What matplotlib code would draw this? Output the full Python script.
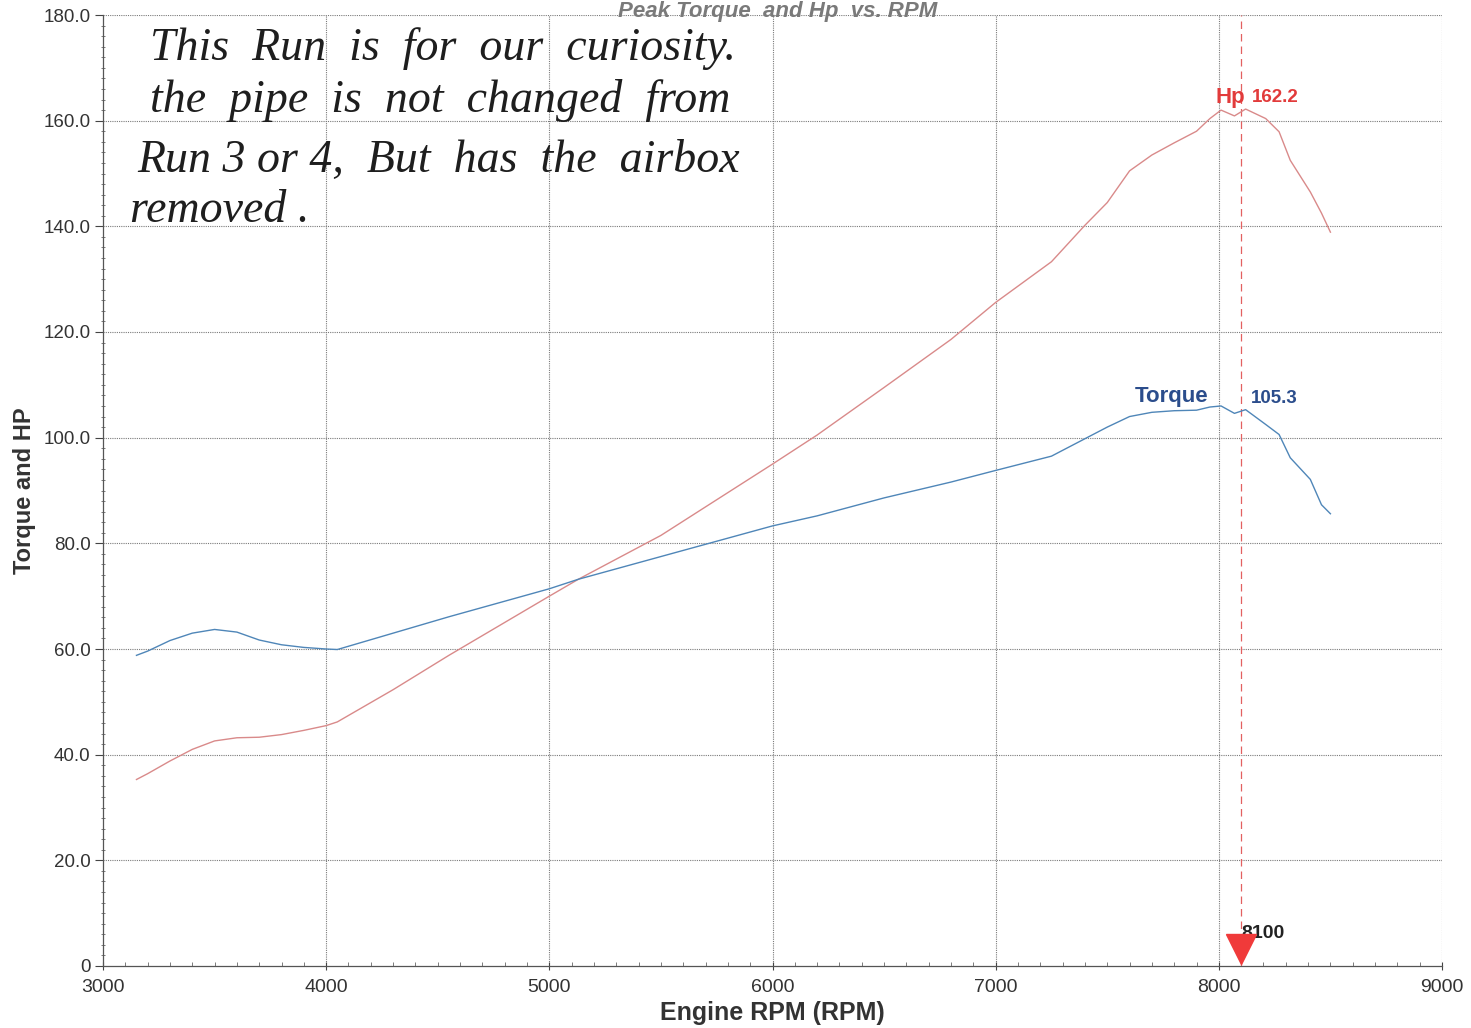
import matplotlib
matplotlib.use("Agg")
import matplotlib.pyplot as plt
from matplotlib.ticker import MultipleLocator, FixedLocator

plt.rcParams['font.family'] = ['Liberation Sans', 'DejaVu Sans']

rpm = [3150, 3200, 3300, 3400, 3500, 3600, 3700, 3800, 3900, 4000, 4050, 4300,
       4550, 5000, 5130, 5500, 6000, 6200, 6500, 6800, 7000, 7250, 7400, 7500,
       7600, 7700, 7800, 7900, 7960, 8010, 8070, 8120, 8210, 8270, 8320, 8410,
       8460, 8500]
torque = [58.8, 59.6, 61.6, 63.0, 63.7, 63.2, 61.7, 60.8, 60.3, 60.0, 59.9, 63.0,
          66.1, 71.4, 73.2, 77.5, 83.3, 85.2, 88.6, 91.6, 93.8, 96.5, 99.8, 102.0,
          104.0, 104.8, 105.1, 105.2, 105.8, 106.0, 104.6, 105.3, 102.5, 100.6, 96.2, 92.1,
          87.3, 85.6]
hp = [35.3, 36.4, 38.8, 41.0, 42.6, 43.2, 43.3, 43.8, 44.6, 45.5, 46.2, 52.3,
      58.8, 70.0, 73.2, 81.5, 95.0, 100.5, 109.5, 118.6, 125.6, 133.3, 140.2, 144.5,
      150.5, 153.5, 155.8, 158.0, 160.4, 162.0, 160.9, 162.2, 160.4, 157.9, 152.5, 146.5,
      142.5, 138.9]

marker_rpm = 8100
peak_hp = 162.2
peak_torque = 105.3

x_ticks = [3000, 4000, 5000, 6000, 7000, 8000, 9000]
y_ticks = [0, 20, 40, 60, 80, 100, 120, 140, 160, 180]
y_tick_labels = ["0", "20.0", "40.0", "60.0", "80.0", "100.0", "120.0", "140.0", "160.0", "180.0"]

title = "Peak Torque  and Hp  vs. RPM"
note_lines = ["This  Run  is  for  our  curiosity.",
              "the  pipe  is  not  changed  from",
              "Run 3 or 4,  But  has  the  airbox",
              "removed ."]

fig = plt.figure(figsize=(14.71, 10.28), dpi=100)
ax = fig.add_axes([103/1471, 1-966/1028, (1442-103)/1471, (966-15)/1028])

grid_c = '#7a7a7a'
for xv in x_ticks[1:]:
    ax.axvline(xv, color=grid_c, lw=0.8, ls=(0, (1, 1)), zorder=1)
for yv in y_ticks[1:]:
    ax.axhline(yv, color=grid_c, lw=0.8, ls=(0, (1, 1)), zorder=1)

ax.plot(rpm, hp, color='#d98a8a', lw=1.0, zorder=3)
ax.plot(rpm, torque, color='#4f86b8', lw=1.0, zorder=3)

ax.axvline(marker_rpm, color='#e36060', lw=0.9, ls=(0, (6, 4)), zorder=2)
ax.plot([marker_rpm], [3.2], marker='v', markersize=22, color='#f03a3a', zorder=5, clip_on=False)
ax.text(marker_rpm, 5.3, str(marker_rpm), fontsize=14, fontweight='bold', color='#222222',
        ha='left', va='baseline')

ax.text(8118, 163.4, "Hp", fontsize=16, fontweight='bold', color='#e23b3b', ha='right', va='baseline')
ax.text(8150, 163.6, f"{peak_hp:.1f}", fontsize=13.5, fontweight='bold', color='#e23b3b', ha='left', va='baseline')
ax.text(7955, 106.8, "Torque", fontsize=16, fontweight='bold', color='#2b4d8c', ha='right', va='baseline')
ax.text(8145, 106.5, f"{peak_torque:.1f}", fontsize=13.5, fontweight='bold', color='#2b4d8c', ha='left', va='baseline')

ax.set_xlim(3000, 9000)
ax.set_ylim(0, 180)
ax.xaxis.set_major_locator(FixedLocator(x_ticks))
ax.xaxis.set_minor_locator(MultipleLocator(100))
ax.yaxis.set_major_locator(FixedLocator(y_ticks))
ax.yaxis.set_minor_locator(MultipleLocator(2))
ax.set_yticklabels(y_tick_labels)
ax.set_xticklabels([str(v) for v in x_ticks])
ax.tick_params(axis='y', which='major', labelsize=13.5)
ax.tick_params(axis='x', which='major', labelsize=14)
ax.tick_params(axis='both', which='major', labelcolor='#333333', color='#444444', length=6, width=0.8)
ax.tick_params(axis='both', which='minor', color='#666666', length=3, width=0.6)
ax.tick_params(axis='x', which='major', direction='inout', length=6, pad=6)
ax.tick_params(axis='x', which='minor', direction='in')
ax.tick_params(axis='y', which='major', direction='out', pad=3)
ax.tick_params(axis='y', which='minor', direction='inout')

for s in ['top', 'right']:
    ax.spines[s].set_visible(False)
for s in ['left', 'bottom']:
    ax.spines[s].set_color('#555555')
    ax.spines[s].set_linewidth(0.9)

ax.set_xlabel("Engine RPM (RPM)", fontsize=18, fontweight='bold', color='#333333')
ax.xaxis.label.set_va('center')
ax.xaxis.set_label_coords(0.5, (966-1013)/951)
ax.set_ylabel("Torque and HP", fontsize=17, fontweight='bold', color='#333333')
ax.yaxis.label.set_va('center')
ax.yaxis.set_label_coords((25-103)/1339, 0.5)

fig.text(778/1471, 1-1/1028, title, fontsize=16, fontstyle='italic', fontweight='bold',
         color='#7a7a7a', ha='center', va='top')

note_y = [60, 112, 172, 222]
note_x = [150, 150, 137, 130]
for line, yy, xx in zip(note_lines, note_y, note_x):
    fig.text(xx/1471, 1-yy/1028, line, fontsize=33, fontstyle='italic',
             family=['Liberation Serif', 'DejaVu Serif'], color='#1e1e1e', ha='left', va='baseline')

fig.savefig("out.png", dpi=100, facecolor='white')
